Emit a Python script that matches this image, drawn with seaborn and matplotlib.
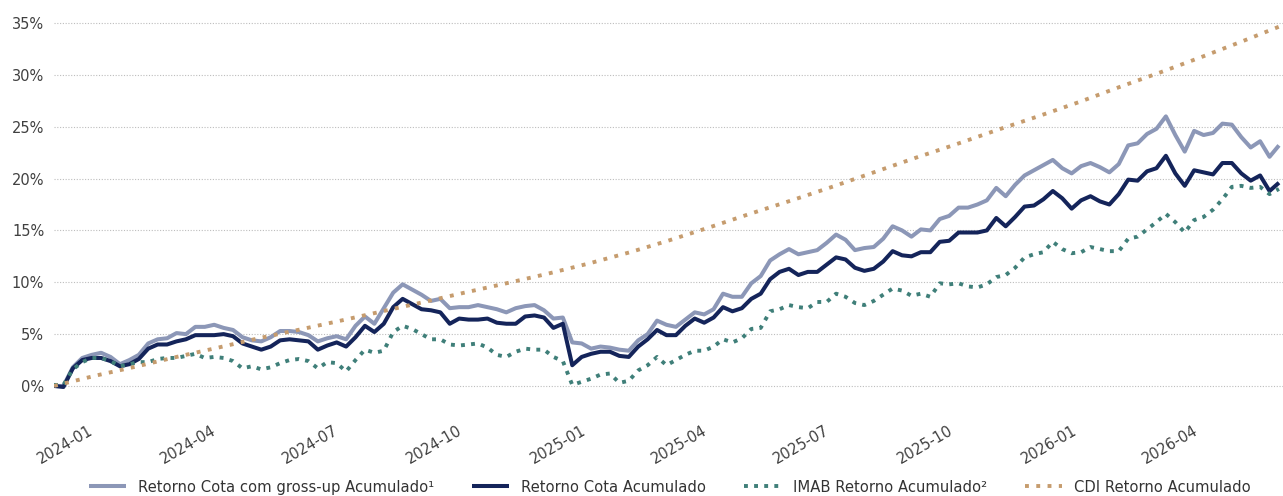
import matplotlib
matplotlib.use("Agg")
import matplotlib.pyplot as plt
import matplotlib.dates as mdates
from matplotlib.ticker import FuncFormatter
import pandas as pd
import seaborn as sns

# ---------------- data ----------------
start_date = "2023-12-01"          # weekly observations
n_weeks = 131

gross_up = [0.0, 0.0, 1.8, 2.7, 3.0, 3.2, 2.8, 2.1, 2.5, 3.0,
            4.1, 4.5, 4.6, 5.1, 5.0, 5.7, 5.7, 5.9, 5.6, 5.4,
            4.7, 4.4, 4.3, 4.7, 5.3, 5.3, 5.2, 4.9, 4.3, 4.6,
            4.8, 4.5, 5.8, 6.7,
            6.0, 7.5, 9.0, 9.8, 9.3, 8.8, 8.2, 8.4, 7.5, 7.6,
            7.6, 7.8, 7.6, 7.4, 7.1, 7.5, 7.7, 7.8, 7.3, 6.5,
            6.6, 4.2, 4.1, 3.6, 3.8, 3.7, 3.5, 3.4, 4.4, 5.0,
            6.3, 5.9, 5.7,
            6.4, 7.1, 6.9, 7.4, 8.9, 8.6, 8.6, 9.9, 10.6, 12.1,
            12.7, 13.2, 12.7, 12.9, 13.1, 13.8, 14.6, 14.1, 13.1, 13.3,
            13.4, 14.2, 15.4, 15.0, 14.4, 15.1, 15.0, 16.1, 16.4, 17.2,
            17.2, 17.5,
            17.9, 19.1, 18.3, 19.4, 20.3, 20.8, 21.3, 21.8, 21.0, 20.5,
            21.2, 21.5, 21.1, 20.6, 21.4, 23.2, 23.4, 24.3, 24.8, 26.0,
            24.2, 22.6, 24.6, 24.2, 24.4, 25.3, 25.2, 24.0, 23.0, 23.6,
            22.1, 23.2]

cota = [0.0, -0.1, 1.7, 2.5, 2.7, 2.7, 2.4, 1.9, 2.1, 2.6,
        3.6, 4.0, 4.0, 4.3, 4.5, 4.9, 4.9, 4.9, 5.0, 4.8,
        4.1, 3.8, 3.5, 3.8, 4.4, 4.5, 4.4, 4.3, 3.5, 3.9,
        4.2, 3.8, 4.7, 5.8,
        5.2, 6.0, 7.6, 8.4, 7.9, 7.4, 7.3, 7.1, 6.0, 6.5,
        6.4, 6.4, 6.5, 6.1, 6.0, 6.0, 6.7, 6.8, 6.6, 5.6,
        6.0, 2.0, 2.8, 3.1, 3.3, 3.3, 2.9, 2.8, 3.8, 4.5,
        5.4, 4.9, 4.9,
        5.8, 6.5, 6.1, 6.6, 7.6, 7.2, 7.5, 8.4, 8.9, 10.3,
        11.0, 11.3, 10.7, 11.0, 11.0, 11.7, 12.4, 12.2, 11.4, 11.1,
        11.3, 12.0, 13.0, 12.6, 12.5, 12.9, 12.9, 13.9, 14.0, 14.8,
        14.8, 14.8,
        15.0, 16.2, 15.4, 16.3, 17.3, 17.4, 18.0, 18.8, 18.1, 17.1,
        17.9, 18.3, 17.8, 17.5, 18.5, 19.9, 19.8, 20.7, 21.0, 22.2,
        20.5, 19.3, 20.8, 20.6, 20.4, 21.5, 21.5, 20.5, 19.8, 20.3,
        18.8, 19.6]

imab = [0.1, 0.1, 1.6, 2.3, 2.7, 2.7, 2.4, 1.9, 2.1, 2.3,
        2.3, 2.6, 2.7, 2.7, 2.9, 3.1, 2.7, 2.8, 2.7, 2.4,
        1.7, 1.9, 1.6, 1.8, 2.2, 2.5, 2.6, 2.4, 1.7, 2.3,
        2.2, 1.4, 2.5, 3.5,
        3.2, 3.4, 5.2, 5.8, 5.5, 5.0, 4.5, 4.5, 4.0, 3.9,
        4.0, 4.1, 3.7, 3.0, 2.8, 3.3, 3.6, 3.5, 3.5, 2.8,
        2.4, 0.1, 0.4, 0.7, 1.1, 1.2, 0.3, 0.5, 1.5, 2.0,
        2.8, 2.0, 2.5,
        3.0, 3.4, 3.4, 3.8, 4.5, 4.2, 4.6, 5.5, 5.6, 7.2,
        7.4, 7.8, 7.6, 7.5, 8.1, 8.1, 8.9, 8.6, 8.0, 7.8,
        8.2, 8.8, 9.4, 9.2, 8.7, 8.9, 8.6, 9.9, 9.8, 9.9,
        9.6, 9.5,
        9.8, 10.5, 10.7, 11.4, 12.4, 12.7, 12.9, 13.9, 13.2, 12.8,
        12.9, 13.4, 13.2, 13.0, 13.0, 14.2, 14.4, 15.1, 15.8, 16.6,
        15.8, 14.8, 16.0, 16.3, 17.0, 18.0, 19.2, 19.3, 19.1, 19.2,
        18.5, 19.0]

cdi_start, cdi_end = "2023-12-01", "2026-06-01"   # monthly observations
cdi = [0.0, 1.0, 1.9, 2.8, 3.7, 4.6, 5.45, 6.3, 7.2, 8.1,
       9.0, 9.9, 10.8, 11.8, 12.9, 14.0, 15.3, 16.6, 17.9, 19.2,
       20.6, 22.0, 23.3, 24.7, 26.0, 27.4, 28.9, 30.2, 31.7, 33.2,
       34.8]

series_names = ["Retorno Cota com gross-up Acumulado\u00b9",
                "Retorno Cota Acumulado",
                "IMAB Retorno Acumulado\u00b2",
                "CDI Retorno Acumulado"]
series_colors = ["#8C97B7", "#14245A", "#3F7F79", "#C69C6E"]
y_ticks = [0, 5, 10, 15, 20, 25, 30, 35]

# ---------------- frames ----------------
weekly = pd.DataFrame({
    "date": pd.date_range(start_date, periods=n_weeks, freq="7D"),
    "gross": gross_up,
    "cota": cota,
    "imab": imab,
})
monthly = pd.DataFrame({
    "date": pd.date_range(cdi_start, cdi_end, freq="MS"),
    "cdi": cdi,
})

# ---------------- figure ----------------
sns.set_theme(style="white")
plt.rcParams["font.family"] = ["DejaVu Sans"]

W, H = 1283, 496
fig = plt.figure(figsize=(W / 100, H / 100), dpi=100)
ax = fig.add_axes([54 / W, 0.2093, 1 - 54 / W, 0.7568])

sns.lineplot(data=weekly, x="date", y="gross", ax=ax, color=series_colors[0],
             linewidth=2.9, label=series_names[0], solid_capstyle="butt")
sns.lineplot(data=weekly, x="date", y="cota", ax=ax, color=series_colors[1],
             linewidth=2.9, label=series_names[1], solid_capstyle="butt")
sns.lineplot(data=weekly, x="date", y="imab", ax=ax, color=series_colors[2],
             linewidth=2.8, linestyle=(0, (1.0, 1.6)), dash_capstyle="butt",
             label=series_names[2])
sns.lineplot(data=monthly, x="date", y="cdi", ax=ax, color=series_colors[3],
             linewidth=2.8, linestyle=(0, (1.0, 1.9)), dash_capstyle="butt",
             label=series_names[3])

ax.set_xlim(pd.Timestamp(cdi_start), pd.Timestamp(cdi_end))
ax.set_ylim(-0.6, 35.6)
ax.set_yticks(y_ticks)
ax.yaxis.set_major_formatter(FuncFormatter(lambda v, _: f"{v:.0f}%"))
ax.xaxis.set_major_locator(mdates.MonthLocator(bymonth=[1, 4, 7, 10]))
ax.xaxis.set_major_formatter(mdates.DateFormatter("%Y-%m"))

ax.set_xlabel("")
ax.set_ylabel("")
for s in ax.spines.values():
    s.set_visible(False)
ax.grid(False)
ax.yaxis.grid(True, color="#BDBDBD", linestyle=(0, (1, 1.5)), linewidth=0.8)
ax.set_axisbelow(True)

ax.tick_params(axis="y", length=0, pad=7, labelsize=10.5, labelcolor="#404040")
ax.tick_params(axis="x", length=0, pad=22, labelsize=10.5, labelcolor="#404040")
for lbl in ax.get_xticklabels():
    lbl.set_rotation(30)
    lbl.set_ha("right")

handles, labels = ax.get_legend_handles_labels()
if ax.get_legend() is not None:
    ax.get_legend().remove()
fig.legend(handles, labels, loc="center", bbox_to_anchor=(0.522, 0.018),
           ncol=4, frameon=False, fontsize=10.6, handlelength=2.5,
           handletextpad=0.8, columnspacing=2.6, labelcolor="#333333",
           borderpad=0, borderaxespad=0)

fig.savefig("out.png", dpi=100)
